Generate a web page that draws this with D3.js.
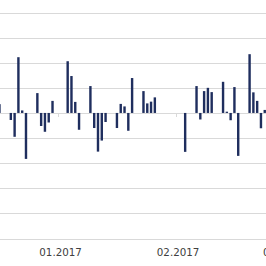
<!DOCTYPE html>
<html>
<head>
<meta charset="utf-8">
<script src="https://cdn.jsdelivr.net/npm/d3@7"></script>
<style>
  html, body { margin: 0; padding: 0; background: #fff; overflow: hidden; }
  svg { display: block; }
  .grid line { stroke: #d9d9d9; stroke-width: 1; }
  .grid path { display: none; }
  .label text { font-family: "DejaVu Sans", sans-serif; font-size: 10.3px; fill: #404040; }
</style>
</head>
<body>
<svg width="266" height="266"></svg>
<script>
// Daily values (trading days)
const days = [
  "2016-12-16", "2016-12-19", "2016-12-20", "2016-12-21", "2016-12-22", "2016-12-23",
  "2016-12-26", "2016-12-27", "2016-12-28", "2016-12-29", "2016-12-30",
  "2017-01-03", "2017-01-04", "2017-01-05", "2017-01-06",
  "2017-01-09", "2017-01-10", "2017-01-11", "2017-01-12", "2017-01-13",
  "2017-01-16", "2017-01-17", "2017-01-18", "2017-01-19", "2017-01-20",
  "2017-01-23", "2017-01-24", "2017-01-25", "2017-01-26",
  "2017-02-03",
  "2017-02-06", "2017-02-07", "2017-02-08", "2017-02-09", "2017-02-10",
  "2017-02-13", "2017-02-14", "2017-02-15", "2017-02-16", "2017-02-17",
  "2017-02-20", "2017-02-21", "2017-02-22", "2017-02-23", "2017-02-24"
]
const values = [
  0.35, -0.28, -0.95, 2.22, 0.1, -1.83,
  0.79, -0.52, -0.75, -0.38, 0.48,
  2.06, 1.47, 0.44, -0.67,
  1.07, -0.6, -1.54, -1.1, -0.36,
  -0.6, 0.36, 0.26, -0.71, 1.39,
  0.87, 0.38, 0.45, 0.62,
  -1.55,
  1.07, -0.26, 0.87, 1.0, 0.83,
  1.24, 0.05, -0.29, 1.03, -1.71,
  2.34, 0.82, 0.48, -0.61, 0.12
]
// month ticks on the axis
const months = ["2017-01-01", "2017-02-01", "2017-03-01"]
const yTicks = [-5, -4, -3, -2, -1, 0, 1, 2, 3, 4]

const parse = d3.timeParse("%Y-%m-%d")
const data = days.map((d, i) => ({ date: parse(d), value: values[i] }))
const monthDates = months.map(parse)

const svg = d3.select("svg")
const w = 266

// time scale: Jan 1 and Mar 1 pinned, the rest extrapolates
const x = d3.scaleTime()
  .domain([monthDates[0], monthDates[2]])
  .range([58.2, 281.8])

const y = d3.scaleLinear()
  .domain([-5, 4])
  .range([238.5, 12.5])

const halfDay = 12 * 3600 * 1000
const barW = 2.4

// Gridlines
svg.append("g")
  .attr("class", "grid")
  .attr("shape-rendering", "crispEdges")
  .call(d3.axisLeft(y).tickValues(yTicks).tickSize(-w - 20).tickFormat(""))
  .attr("transform", "translate(-10,0)")

// Bars
svg.append("g")
  .selectAll("rect")
  .data(data)
  .enter()
  .append("rect")
  .attr("x", d => x(new Date(+d.date + halfDay)) - barW / 2)
  .attr("width", barW)
  .attr("y", d => y(Math.max(0, d.value)))
  .attr("height", d => Math.abs(y(d.value) - y(0)))
  .attr("fill", "#1f2e5e")

// Axis at zero with month ticks
const zeroAxis = svg.append("g")
  .attr("class", "grid")
  .attr("shape-rendering", "crispEdges")
  .attr("transform", `translate(0,${y(0)})`)
  .call(d3.axisBottom(x).tickValues(monthDates).tickSize(4).tickFormat(""))

// Month labels along the bottom, centred on the first day
svg.append("g")
  .attr("class", "label")
  .attr("transform", `translate(0,${y(-5)})`)
  .call(d3.axisBottom(x)
    .tickValues(monthDates.map(d => new Date(+d + halfDay)))
    .tickSize(0)
    .tickPadding(10)
    .tickFormat(d3.timeFormat("%m.%Y")))
  .call(g => g.select(".domain").remove())
</script>
</body>
</html>
